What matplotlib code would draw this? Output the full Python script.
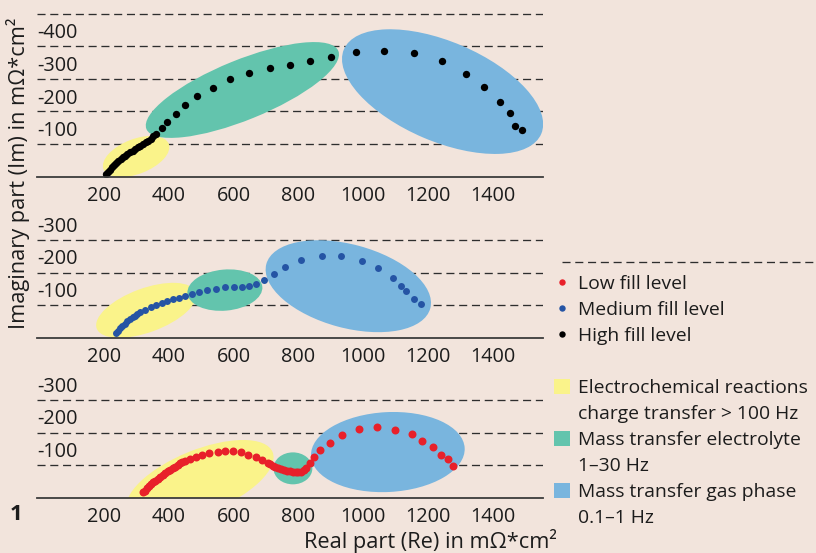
import matplotlib
matplotlib.use("Agg")
import matplotlib.pyplot as plt
from matplotlib.patches import Ellipse, Patch
from matplotlib.lines import Line2D
from matplotlib import transforms

plt.rcParams['font.family'] = ['Open Sans', 'DejaVu Sans']
plt.rcParams['axes.unicode_minus'] = False
plt.rcParams['lines.scale_dashes'] = False

# ---------------- data: impedance spectra (Re, Im in mOhm*cm^2) ----------------
high_re = [206, 212, 218, 224, 230, 237, 244, 251, 258, 265, 272, 280, 288, 296, 304,
           312, 320, 328, 336, 344, 352, 360, 378, 395, 422, 450, 488, 535, 589, 648,
           712, 774, 836, 902, 978, 1065, 1157, 1244, 1316, 1374, 1421, 1454, 1470, 1491]
high_im = [-8, -15, -22, -29, -35, -42, -49, -54, -60, -65, -70, -75, -80, -85, -90,
           -95, -100, -106, -111, -117, -124, -131, -149, -168, -193, -219, -247, -273, -299, -318,
           -333, -344, -355, -367, -382, -387, -378, -355, -316, -274, -229, -195, -157, -144]

med_re = [237, 243, 249, 256, 264, 272, 280, 288, 296, 303, 311, 326, 344, 360, 378,
          395, 414, 432, 450, 473, 494, 519, 546, 572, 600, 625, 648, 669, 694, 724,
          760, 807, 872, 930, 995, 1046, 1091, 1117, 1133, 1157, 1177]
med_im = [-15, -22, -29, -36, -42, -50, -56, -62, -68, -73, -78, -85, -93, -100, -107,
          -112, -118, -123, -127, -133, -140, -146, -150, -154, -154, -156, -160, -165, -177, -195,
          -216, -238, -252, -251, -236, -213, -182, -158, -142, -119, -102]

low_re = [321, 327, 332, 338, 344, 351, 357, 365, 373, 381, 388, 396, 404, 412, 419,
          427, 435, 442, 450, 465, 484, 502, 525, 551, 573, 597, 623, 645, 668, 689,
          705, 713, 721, 729, 738, 747, 756, 765, 774, 783, 793, 800, 808, 816, 823,
          836, 849, 866, 898, 936, 987, 1043, 1097, 1150, 1183, 1215, 1239, 1262, 1278]
low_im = [-16, -22, -29, -35, -41, -47, -52, -58, -65, -71, -76, -81, -86, -91, -95,
          -100, -105, -108, -112, -119, -126, -131, -136, -141, -144, -144, -139, -131, -124, -117,
          -107, -102, -97, -93, -90, -87, -85, -83, -81, -80, -80, -79, -78, -84, -90,
          -105, -125, -147, -169, -193, -212, -216, -208, -195, -173, -155, -132, -118, -98]

# process regions per fill level: (Re centre, Im centre, Re width, Im height, tilt deg)
high_regions = [(299, -62, 216, 107, 21), (627, -266, 639, 184, 22), (1245, -261, 662, 306, -23)]
med_regions = [(330, -84, 325, 135, 20), (573, -146, 232, 126, 5), (954, -158, 524, 256, -15)]
low_regions = [(496, -49, 484, 195, 22), (783, -90, 120, 98, 0), (1076, -140, 475, 245, 3)]

x_ticks = [200, 400, 600, 800, 1000, 1200, 1400]
high_grid = [-100, -200, -300, -400, -500]
high_labels = [-100, -200, -300, -400]
low_grid = [-100, -200, -300]
low_labels = [-100, -200, -300]

series_labels = ['Low fill level', 'Medium fill level', 'High fill level']
region_labels = [('Electrochemical reactions', 'charge transfer > 100 Hz'),
                 ('Mass transfer electrolyte', '1\u201330 Hz'),
                 ('Mass transfer gas phase', '0.1\u20131 Hz')]

# ---------------- styling ----------------
BG = '#f2e4dc'
TXT = '#1c1c1c'
REGION_COLORS = ['#faf38a', '#63c4ad', '#79b5de']
RED, MEDBLUE, BLACK = '#e8202a', '#2554a4', '#000000'
TICK_FS = 14.3
LEG_FS = 13.9
TITLE_FS = 15.7

W, H = 816, 553
PX_PER_UNIT = 0.326
X_MIN, X_MAX = -7, 1555
AX_LEFT, AX_RIGHT = 37, 543

fig = plt.figure(figsize=(W / 100, H / 100), dpi=100, facecolor=BG)


def panel(baseline_px, ymax, re, im, color, size, regions, grid, labels):
    height = ymax * PX_PER_UNIT
    ax = fig.add_axes([AX_LEFT / W, (H - baseline_px) / H,
                       (AX_RIGHT - AX_LEFT) / W, height / H])
    ax.patch.set_visible(False)
    ax.set_xlim(X_MIN, X_MAX)
    ax.set_ylim(0, -ymax)
    for s in ['top', 'left', 'right']:
        ax.spines[s].set_visible(False)
    ax.spines['bottom'].set_color('#3c3c3c')
    ax.spines['bottom'].set_linewidth(1.3)
    ax.spines['bottom'].set_zorder(5)
    ax.set_yticks([])
    ax.set_xticks(x_ticks)
    ax.tick_params(axis='x', length=0, pad=6.5, labelsize=TICK_FS, labelcolor=TXT)

    for g in grid:
        ax.axhline(g, color='#2e2e2e', lw=0.95, ls=(0, (5.8, 3.4)), zorder=0.5)
    for (cx, cy, w, h, tilt), c in zip(regions, REGION_COLORS):
        ax.add_patch(Ellipse((cx, cy), w, h, angle=-tilt, facecolor=c,
                             edgecolor='none', zorder=1))
    ax.scatter(re, im, s=size, color=color, linewidths=0, zorder=3)

    up = transforms.ScaledTranslation(0, 13 / 100, fig.dpi_scale_trans)
    trans = transforms.blended_transform_factory(ax.transAxes, ax.transData) + up
    for v in labels:
        ax.text(0.0, v, f"{v}", transform=trans, ha='left', va='center',
                fontsize=TICK_FS, color=TXT, clip_on=False)
    return ax


panel(176.7, 510, high_re, high_im, BLACK, 28, high_regions, high_grid, high_labels)
panel(337.7, 330, med_re, med_im, MEDBLUE, 25, med_regions, low_grid, low_labels)
panel(497.7, 330, low_re, low_im, RED, 33, low_regions, low_grid, low_labels)

# axis titles and figure number
fig.text(557 / W, 1 - 541 / H, 'Real part (Re) in m\u03a9*cm\u00b2', ha='right', va='center',
         fontsize=TITLE_FS, color=TXT)
fig.text(18 / W, 1 - 173 / H, 'Imaginary part (Im) in m\u03a9*cm\u00b2', rotation=90,
         ha='center', va='center', fontsize=TITLE_FS, color=TXT)
fig.text(16 / W, 1 - 515 / H, '1', ha='center', va='center', fontsize=16,
         fontweight='bold', color=TXT)

# legend: fill levels, then process regions (second text line without key)
handles, texts = [], []
for c, lab in zip([RED, MEDBLUE, BLACK], series_labels):
    handles.append(Line2D([], [], ls='none', marker='o', markersize=4.6,
                          markerfacecolor=c, markeredgewidth=0))
    texts.append(lab)
handles.append(Patch(facecolor='none', edgecolor='none'))
texts.append(' ')
for c, (l1, l2) in zip(REGION_COLORS, region_labels):
    handles.append(Patch(facecolor=c, edgecolor='none'))
    texts.append(l1)
    handles.append(Patch(facecolor='none', edgecolor='none'))
    texts.append(l2)

fig.legend(handles, texts, loc='upper left', bbox_to_anchor=(554 / W, 1 - 275 / H),
           frameon=False, fontsize=LEG_FS, labelcolor=TXT, handlelength=0.83,
           handleheight=0.83, handletextpad=0.42, labelspacing=0.40,
           borderpad=0, borderaxespad=0)

fig.add_artist(Line2D([561.7 / W, 1.0], [1 - 261.7 / H] * 2, transform=fig.transFigure,
                      color='#2e2e2e', lw=0.95, ls=(0, (5.8, 3.4))))

fig.savefig('out.png', dpi=100, facecolor=BG)
